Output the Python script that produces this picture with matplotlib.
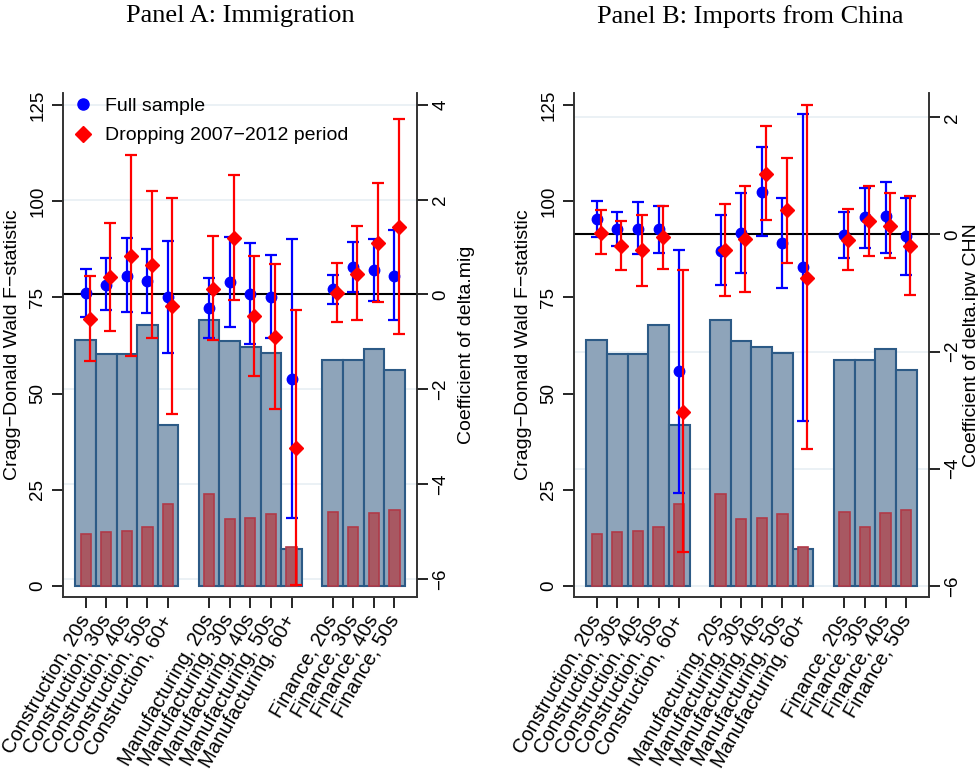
import numpy as np
import matplotlib
matplotlib.use("Agg")
import matplotlib.pyplot as plt
from matplotlib.lines import Line2D
from matplotlib.transforms import blended_transform_factory

plt.rcParams['font.family'] = ['Liberation Sans', 'DejaVu Sans']

# ---------------- data ----------------
groups = ["Construction", "Manufacturing", "Finance"]
group_ages = [["20s", "30s", "40s", "50s", "60+"],
              ["20s", "30s", "40s", "50s", "60+"],
              ["20s", "30s", "40s", "50s"]]
labels = [f"{g}, {a}" for g, ages in zip(groups, group_ages) for a in ages]

# Cragg-Donald F statistics (left axis)
fstat_full = [64.0, 60.4, 60.4, 67.8, 41.8, 69.1, 63.7, 62.2, 60.6, 9.7, 58.8, 58.8, 61.7, 56.0]
fstat_drop = [13.5, 13.9, 14.3, 15.3, 21.3, 23.8, 17.3, 17.7, 18.7, 10.2, 19.1, 15.3, 18.9, 19.8]

# Panel A: coefficient of delta.mig
mig_full    = [0.03, 0.21, 0.40, 0.28, -0.05, -0.29, 0.27, 0.02, -0.05, -1.78, 0.11, 0.58, 0.52, 0.40]
mig_full_hi = [0.53, 0.76, 1.19, 0.96, 1.12, 0.34, 1.21, 1.09, 0.83, 1.16, 0.41, 1.10, 1.17, 1.35]
mig_full_lo = [-0.47, -0.32, -0.36, -0.40, -1.23, -0.91, -0.68, -1.05, -0.91, -4.72, -0.21, 0.06, -0.13, -0.54]
mig_drop    = [-0.51, 0.36, 0.81, 0.62, -0.25, 0.12, 1.20, -0.46, -0.89, -3.24, 0.04, 0.44, 1.09, 1.43]
mig_drop_hi = [0.39, 1.51, 2.94, 2.18, 2.04, 1.24, 2.52, 0.82, 0.65, -0.33, 0.66, 1.44, 2.36, 3.71]
mig_drop_lo = [-1.40, -0.76, -1.30, -0.92, -2.52, -0.97, -0.11, -1.72, -2.42, -6.13, -0.57, -0.54, -0.16, -0.84]

# Panel B: coefficient of delta.ipw CHN
ipw_full    = [0.26, 0.09, 0.10, 0.09, -2.34, -0.28, 0.03, 0.72, -0.15, -0.56, -0.01, 0.29, 0.31, -0.03]
ipw_full_hi = [0.57, 0.39, 0.55, 0.49, -0.27, 0.34, 0.70, 1.49, 0.62, 2.06, 0.38, 0.80, 0.90, 0.63]
ipw_full_lo = [-0.05, -0.20, -0.34, -0.31, -4.41, -0.86, -0.65, -0.03, -0.92, -3.18, -0.41, -0.24, -0.31, -0.69]
ipw_drop    = [0.03, -0.19, -0.27, -0.05, -3.03, -0.27, -0.07, 1.04, 0.41, -0.74, -0.09, 0.23, 0.15, -0.19]
ipw_drop_hi = [0.42, 0.23, 0.34, 0.49, -0.61, 0.52, 0.82, 1.85, 1.31, 2.21, 0.43, 0.82, 0.70, 0.65]
ipw_drop_lo = [-0.34, -0.61, -0.88, -0.59, -5.43, -1.05, -0.98, 0.24, -0.48, -3.66, -0.61, -0.36, -0.40, -1.03]

# positions: groups separated by one empty slot
xpos = np.array([i + 1 + gi for gi, ages in enumerate(group_ages)
                 for i in [sum(len(a) for a in group_ages[:gi]) + k for k in range(len(ages))]], dtype=float)

BAR_FILL = "#8ea4ba"
BAR_EDGE = "#2c5a86"
RBAR_FILL = "#a85862"
RBAR_EDGE = "#b03a48"
GRID = "#e8eff3"

fig = plt.figure(figsize=(9.79, 7.73), dpi=100)

panels = [
    dict(rect=[0.0644, 0.2277, 0.3616, 0.652], title="Panel A: Immigration", title_x=0.245,
         ylab2="Coefficient of delta.mig", ylim2=(-6.38, 4.25), ticks2=[-6, -4, -2, 0, 2, 4], labpad2=6,
         full=(mig_full, mig_full_lo, mig_full_hi), drop=(mig_drop, mig_drop_lo, mig_drop_hi), legend=True),
    dict(rect=[0.5863, 0.2277, 0.3626, 0.652], title="Panel B: Imports from China", title_x=0.766,
         ylab2="Coefficient of delta.ipw CHN", ylim2=(-6.19, 2.415), ticks2=[-6, -4, -2, 0, 2], labpad2=1,
         full=(ipw_full, ipw_full_lo, ipw_full_hi), drop=(ipw_drop, ipw_drop_lo, ipw_drop_hi), legend=False),
]

for p in panels:
    ax = fig.add_axes(p["rect"])
    ax2 = ax.twinx()
    ax.set_xlim(-0.1, 17.1)
    ax.set_ylim(-2.86, 128.1)
    ax2.set_ylim(*p["ylim2"])

    # gridlines at right-axis ticks (drawn behind bars)
    tr = blended_transform_factory(ax.transAxes, ax2.transData)
    for t in p["ticks2"]:
        if t != 0:
            ax.plot([0, 1], [t, t], transform=tr, color=GRID, lw=1.2, zorder=0)

    ax.bar(xpos, fstat_full, width=1.0, color=BAR_FILL, edgecolor=BAR_EDGE, linewidth=1.5, zorder=2)
    ax.bar(xpos, fstat_drop, width=0.5, color=RBAR_FILL, edgecolor=RBAR_EDGE, linewidth=1.2, zorder=3)

    ax2.axhline(0, color="black", lw=1.5, zorder=1)

    f, flo, fhi = (np.array(a) for a in p["full"])
    d, dlo, dhi = (np.array(a) for a in p["drop"])
    ax2.errorbar(xpos, f, yerr=[f - flo, fhi - f], fmt='o', color="#0000ff", ms=7.5,
                 elinewidth=1.6, capsize=4, capthick=1.6, zorder=3)
    ax2.errorbar(xpos + 0.2, d, yerr=[d - dlo, dhi - d], fmt='D', color="#ff0000", ms=7,
                 elinewidth=1.6, capsize=4, capthick=1.6, zorder=4)

    # axes styling
    for a in (ax, ax2):
        a.spines['top'].set_visible(False)
        for s in ('left', 'right', 'bottom'):
            a.spines[s].set_linewidth(1.2)
            a.spines[s].set_color("#333333")
    ax.set_yticks([0, 25, 50, 75, 100, 125])
    ax.set_yticklabels(["0", "25", "50", "75", "100", "125"], rotation=90, va="center", fontsize=13.5)
    ax2.set_yticks(p["ticks2"])
    ax2.set_yticklabels([str(t).replace("-", "\u2212") for t in p["ticks2"]], rotation=90, va="center", fontsize=13.5)
    ax.set_xticks(xpos)
    ax.set_xticklabels(labels, rotation=60, ha="right", va="center", rotation_mode="anchor", fontsize=14.5)
    ax.tick_params(axis='x', length=8, width=1.2, pad=6)
    ax.tick_params(axis='y', length=8, width=1.2, pad=4)
    ax2.tick_params(axis='y', length=8, width=1.2, pad=3)
    ax.set_ylabel("Cragg\u2212Donald Wald F\u2212statistic", fontsize=14, labelpad=6)
    ax2.set_ylabel(p["ylab2"], fontsize=14, labelpad=p["labpad2"])
    ax.set_zorder(1)
    ax2.set_zorder(2)
    ax.patch.set_visible(True)
    ax2.patch.set_visible(False)

    fig.text(p["title_x"], 0.979, p["title"], ha="center", va="center",
             family=["Liberation Serif", "DejaVu Serif"], fontsize=19)

    if p["legend"]:
        handles = [Line2D([], [], ls='none', marker='o', color="#0000ff", ms=8),
                   Line2D([], [], ls='none', marker='D', color="#ff0000", ms=8)]
        ax2.legend(handles, ["Full sample", "Dropping 2007\u22122012 period"], loc="upper left",
                   bbox_to_anchor=(-0.037, 1.018), frameon=False, fontsize=14, handletextpad=0.15,
                   labelspacing=0.6, borderaxespad=0.3)

fig.savefig("out.png", dpi=100)
